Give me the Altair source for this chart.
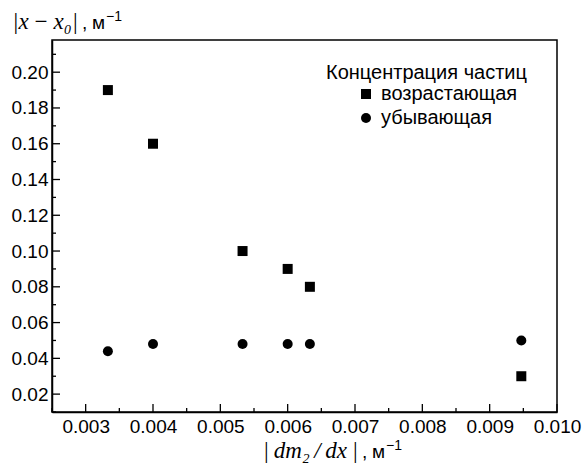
import altair as alt
import pandas as pd

# Measured data: |x - x0| versus |dm2/dx|
grad = [0.00333, 0.004, 0.00533, 0.006, 0.00633, 0.00947]
rising = [0.19, 0.16, 0.10, 0.09, 0.08, 0.03]
falling = [0.044, 0.048, 0.048, 0.048, 0.048, 0.050]

series_names = ["возрастающая", "убывающая"]
series_shapes = ["square", "circle"]
legend_title = "Концентрация частиц"

x_major = [0.003, 0.004, 0.005, 0.006, 0.007, 0.008, 0.009, 0.010]
x_minor = [0.0025, 0.0035, 0.0045, 0.0055, 0.0065, 0.0075, 0.0085, 0.0095]
y_major = [0.02, 0.04, 0.06, 0.08, 0.10, 0.12, 0.14, 0.16, 0.18, 0.20]
y_minor = [0.01, 0.03, 0.05, 0.07, 0.09, 0.11, 0.13, 0.15, 0.17, 0.19, 0.21]

X_DOMAIN = [0.0025, 0.010]
Y_DOMAIN = [0.01, 0.218]

# Layout (pixels)
LEFT, TOP = 52, 40
W, H = 505, 372
CANVAS_W, CANVAS_H = 584, 465
SANS = "Liberation Sans"
SERIF = "Liberation Serif"
THIN = "\u2009"

points = pd.DataFrame({
    "grad": grad * 2,
    "dev": rising + falling,
    "series": [series_names[0]] * len(grad) + [series_names[1]] * len(grad),
})

xscale = alt.Scale(domain=X_DOMAIN, nice=False, zero=False)
yscale = alt.Scale(domain=Y_DOMAIN, nice=False, zero=False)
shape_scale = alt.Scale(domain=series_names, range=series_shapes)

base_axis = dict(
    grid=False, ticks=False, domainColor="black", domainWidth=1.5,
    labelFont=SANS, labelFontSize=19, labelColor="black", title=None,
    labelOverlap=False, labelBound=False, labelFlush=False,
)

marks = alt.Chart(points).mark_point(filled=True, size=100, opacity=1, color="black").encode(
    x=alt.X("grad:Q", scale=xscale,
            axis=alt.Axis(values=x_major, format=".3f", labelPadding=5, **base_axis)),
    y=alt.Y("dev:Q", scale=yscale,
            axis=alt.Axis(values=y_major, format=".2f", labelPadding=4, **base_axis)),
    shape=alt.Shape("series:N", scale=shape_scale, legend=None),
)


def xticks(vals, length):
    return alt.Chart(pd.DataFrame({"v": vals})).mark_rule(color="black", strokeWidth=1.3).encode(
        x=alt.X("v:Q", scale=xscale),
        y=alt.value(H), y2=alt.value(H - length),
    )


def yticks(vals, length):
    return alt.Chart(pd.DataFrame({"v": vals})).mark_rule(color="black", strokeWidth=1.3).encode(
        y=alt.Y("v:Q", scale=yscale),
        x=alt.value(0), x2=alt.value(length),
    )


def label(text, x, y, font=SANS, size=18, style="normal", align="left", baseline="alphabetic"):
    return alt.Chart(pd.DataFrame({"t": [text]})).mark_text(
        font=font, fontSize=size, fontStyle=style, align=align, baseline=baseline, color="black",
    ).encode(text="t:N", x=alt.value(x - LEFT), y=alt.value(y - TOP))


def legend_symbol(name, x, y):
    return alt.Chart(pd.DataFrame({"s": [name]})).mark_point(
        filled=True, size=100, opacity=1, color="black",
    ).encode(shape=alt.Shape("s:N", scale=shape_scale, legend=None),
             x=alt.value(x - LEFT), y=alt.value(y - TOP))


def unit_title(math, x_math_end, baseline):
    """Math part in serif italic, followed by ', м' and a raised '−1'."""
    return [
        label(math, x_math_end, baseline, font=SERIF, size=23, style="italic", align="right"),
        label(",", x_math_end + 4, baseline, size=19),
        label("м", x_math_end + 14, baseline, size=19),
        label("−1", x_math_end + 28, baseline - 8, size=14),
    ]


layers = [
    marks,
    xticks(x_major, 8), xticks(x_minor, 4),
    yticks(y_major, 8), yticks(y_minor, 4),
    *unit_title(f"|x{THIN}−{THIN}x₀|", 78, 29),
    *unit_title(f"|{THIN}dm₂{THIN}/{THIN}dx{THIN}|", 358, 458),
    # legend
    label(legend_title, 326, 79, size=20),
    legend_symbol(series_names[0], 366, 94),
    label(series_names[0], 381, 94, size=20, baseline="middle"),
    legend_symbol(series_names[1], 366, 118),
    label(series_names[1], 381, 118, size=20, baseline="middle"),
]

chart = alt.layer(*layers).properties(
    width=W, height=H,
    autosize=alt.AutoSizeParams(type="none"),
    padding={"left": LEFT, "top": TOP, "right": CANVAS_W - LEFT - W, "bottom": CANVAS_H - TOP - H},
    background="white",
).configure_view(stroke="black", strokeWidth=1.5)

chart.save("out.html", embed_options={"renderer": "svg", "actions": False})
